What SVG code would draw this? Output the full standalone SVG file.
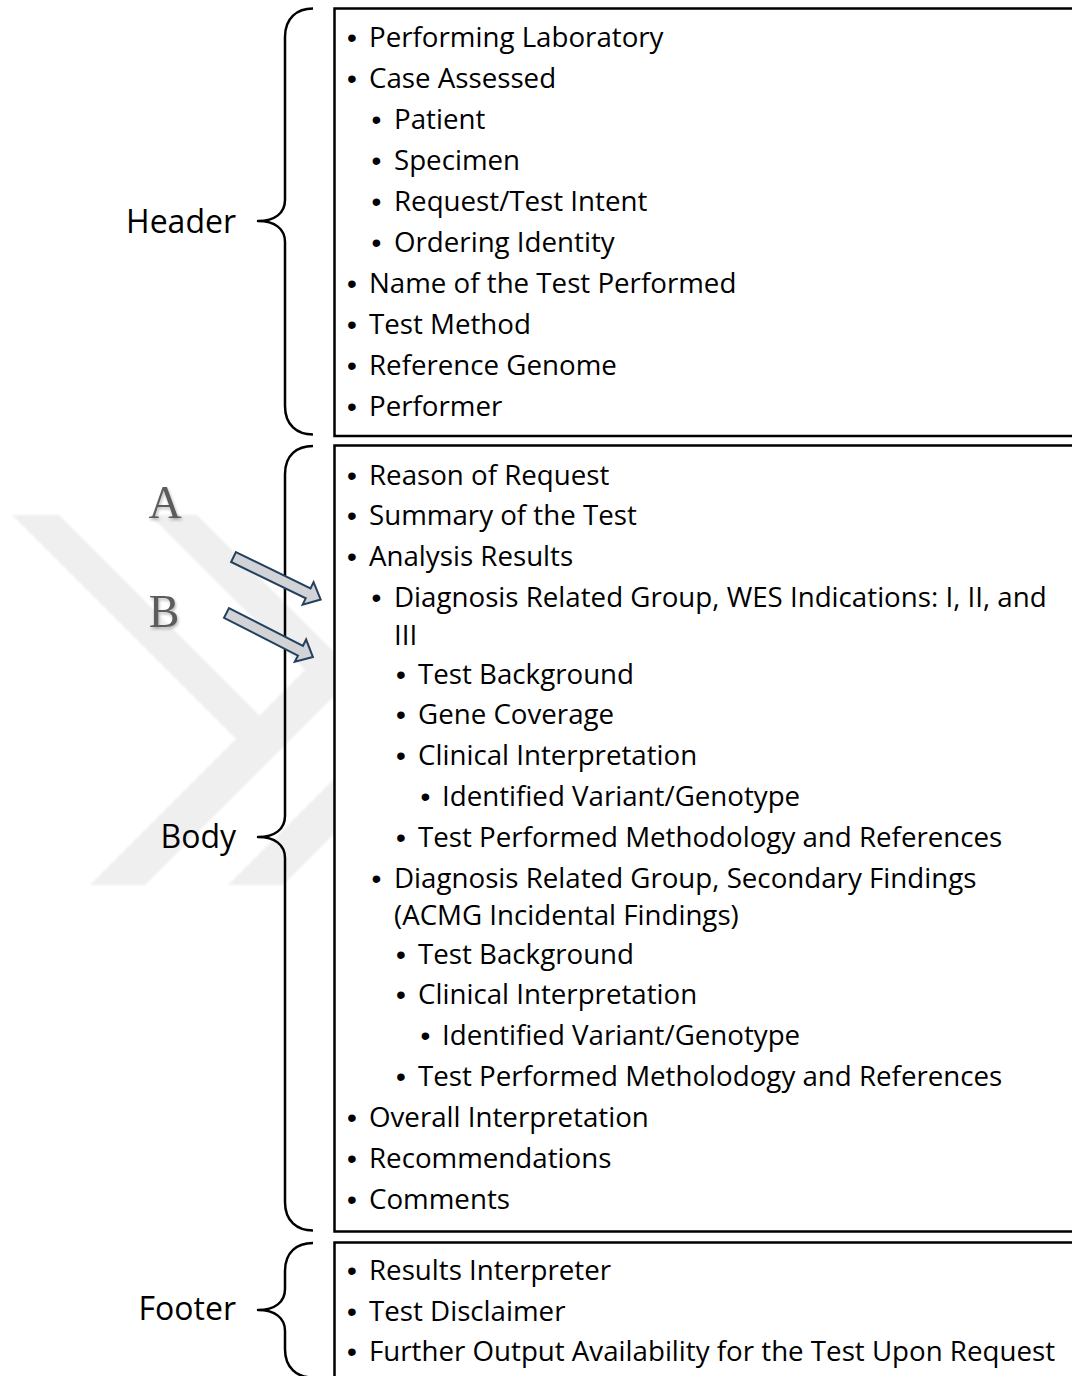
<svg xmlns="http://www.w3.org/2000/svg" width="1072" height="1376" viewBox="0 0 1072 1376">
  <style>
    .t { font-family: "Open Sans", "Noto Sans", sans-serif; font-size: 27.7px; fill: #000; }
    .t .b { font-family: "Liberation Sans", Arial, sans-serif; font-size: 28px; }
    .lbl { font-family: "Open Sans", "Noto Sans", sans-serif; font-size: 32px; fill: #000; text-anchor: end; }
    .box { fill: #fff; stroke: #000; stroke-width: 2.5; }
    .brace { fill: none; stroke: #000; stroke-width: 2.5; stroke-linejoin: round; }
    .wm { fill: #efefef; }
    .arrow { fill: #d2d3d6; stroke: #23405f; stroke-width: 2; stroke-linejoin: miter; }
    .letter { font-family: "Liberation Serif", "DejaVu Serif", serif; font-size: 46px; fill: #5c5c5c; text-anchor: middle; }
  </style>
  <defs>
    <filter id="soft" x="-30%" y="-30%" width="160%" height="160%">
      <feDropShadow dx="1" dy="2" stdDeviation="1.4" flood-color="#000" flood-opacity="0.3"/>
    </filter>
    <filter id="wmEdge" x="-5%" y="-5%" width="110%" height="110%">
      <feGaussianBlur stdDeviation="0.8"/>
    </filter>
    <path id="blockArrow" d="M0,-5.5 H83 V-12.5 L97,0 L83,12.5 V5.5 H0 Z"/>
  </defs>

  <rect width="1072" height="1376" fill="#fff"/>

  <!-- background chevron mark -->
  <g id="watermark" filter="url(#wmEdge)">
    <polygon class="wm" points="12,515 59,515 287,743 145,885 90,885 236,739"/>
    <polygon class="wm" points="259.5,715.5 305,670 332.5,697.5 287,743"/>
    <polygon class="wm" points="150,515 197,515 425,743 283,885 228,885 374,739"/>
  </g>

  <!-- Header section -->
  <g id="header">
    <path class="brace" d="M313,8.5 C297,8.5 285,18 285,37 L285,200 C285,213 275,221 258,221 C275,221 285,229 285,242 L285,406 C285,425 297,434.5 313,434.5"/>
    <text class="lbl" x="236" y="233">Header</text>
    <rect class="box" x="334.5" y="8.5" width="760" height="427.5"/>
    <text class="t" y="47"><tspan class="b" x="347">•</tspan><tspan x="369">Performing Laboratory</tspan></text>
    <text class="t" y="88"><tspan class="b" x="347">•</tspan><tspan x="369">Case Assessed</tspan></text>
    <text class="t" y="129"><tspan class="b" x="371.5">•</tspan><tspan x="394">Patient</tspan></text>
    <text class="t" y="170"><tspan class="b" x="371.5">•</tspan><tspan x="394">Specimen</tspan></text>
    <text class="t" y="210.5"><tspan class="b" x="371.5">•</tspan><tspan x="394">Request/Test Intent</tspan></text>
    <text class="t" y="251.5"><tspan class="b" x="371.5">•</tspan><tspan x="394">Ordering Identity</tspan></text>
    <text class="t" y="292.5"><tspan class="b" x="347">•</tspan><tspan x="369">Name of the Test Performed</tspan></text>
    <text class="t" y="333.5"><tspan class="b" x="347">•</tspan><tspan x="369">Test Method</tspan></text>
    <text class="t" y="374.5"><tspan class="b" x="347">•</tspan><tspan x="369">Reference Genome</tspan></text>
    <text class="t" y="415.5"><tspan class="b" x="347">•</tspan><tspan x="369">Performer</tspan></text>
  </g>

  <!-- Body section -->
  <g id="body">
    <path class="brace" d="M313,446 C297,446 285,455 285,474 L285,816 C285,829 275,837 258,837 C275,837 285,845 285,858 L285,1202 C285,1221 297,1230.5 313,1230.5"/>
    <text class="lbl" x="236" y="848">Body</text>
    <rect class="box" x="334.5" y="445.5" width="760" height="786"/>
    <text class="t" y="484.5"><tspan class="b" x="347">•</tspan><tspan x="369">Reason of Request</tspan></text>
    <text class="t" y="525"><tspan class="b" x="347">•</tspan><tspan x="369">Summary of the Test</tspan></text>
    <text class="t" y="566"><tspan class="b" x="347">•</tspan><tspan x="369">Analysis Results</tspan></text>
    <text class="t" y="607"><tspan class="b" x="371.5">•</tspan><tspan x="394">Diagnosis Related Group, WES Indications: I, II, and</tspan></text>
    <text class="t" x="394" y="645">III</text>
    <text class="t" y="683.5"><tspan class="b" x="396">•</tspan><tspan x="418">Test Background</tspan></text>
    <text class="t" y="724"><tspan class="b" x="396">•</tspan><tspan x="418">Gene Coverage</tspan></text>
    <text class="t" y="765"><tspan class="b" x="396">•</tspan><tspan x="418">Clinical Interpretation</tspan></text>
    <text class="t" y="806"><tspan class="b" x="420.5">•</tspan><tspan x="442">Identified Variant/Genotype</tspan></text>
    <text class="t" y="846.5"><tspan class="b" x="396">•</tspan><tspan x="418">Test Performed Methodology and References</tspan></text>
    <text class="t" y="887.5"><tspan class="b" x="371.5">•</tspan><tspan x="394">Diagnosis Related Group, Secondary Findings</tspan></text>
    <text class="t" x="394" y="925">(ACMG Incidental Findings)</text>
    <text class="t" y="963.5"><tspan class="b" x="396">•</tspan><tspan x="418">Test Background</tspan></text>
    <text class="t" y="1004"><tspan class="b" x="396">•</tspan><tspan x="418">Clinical Interpretation</tspan></text>
    <text class="t" y="1045"><tspan class="b" x="420.5">•</tspan><tspan x="442">Identified Variant/Genotype</tspan></text>
    <text class="t" y="1085.5"><tspan class="b" x="396">•</tspan><tspan x="418">Test Performed Metholodogy and References</tspan></text>
    <text class="t" y="1126.5"><tspan class="b" x="347">•</tspan><tspan x="369">Overall Interpretation</tspan></text>
    <text class="t" y="1167.5"><tspan class="b" x="347">•</tspan><tspan x="369">Recommendations</tspan></text>
    <text class="t" y="1208.5"><tspan class="b" x="347">•</tspan><tspan x="369">Comments</tspan></text>
  </g>

  <!-- Footer section -->
  <g id="footer">
    <path class="brace" d="M313,1243 C297,1243 285,1252 285,1271 L285,1289 C285,1302 275,1310 258,1310 C275,1310 285,1318 285,1331 L285,1349 C285,1368 297,1377.5 313,1377.5"/>
    <text class="lbl" x="236" y="1320">Footer</text>
    <rect class="box" x="334.5" y="1242.5" width="760" height="160"/>
    <text class="t" y="1280"><tspan class="b" x="347">•</tspan><tspan x="369">Results Interpreter</tspan></text>
    <text class="t" y="1320.5"><tspan class="b" x="347">•</tspan><tspan x="369">Test Disclaimer</tspan></text>
    <text class="t" y="1361"><tspan class="b" x="347">•</tspan><tspan x="369">Further Output Availability for the Test Upon Request</tspan></text>
  </g>

  <!-- Pointer arrows A and B -->
  <g id="connectors">
    <g id="pointer-a">
      <text class="letter" x="165" y="518" filter="url(#soft)">A</text>
      <use href="#blockArrow" class="arrow" transform="translate(233.5,557) rotate(26)"/>
    </g>
    <g id="pointer-b">
      <text class="letter" x="164" y="627" filter="url(#soft)">B</text>
      <use href="#blockArrow" class="arrow" transform="translate(226.5,613) rotate(27)"/>
    </g>
  </g>
</svg>
